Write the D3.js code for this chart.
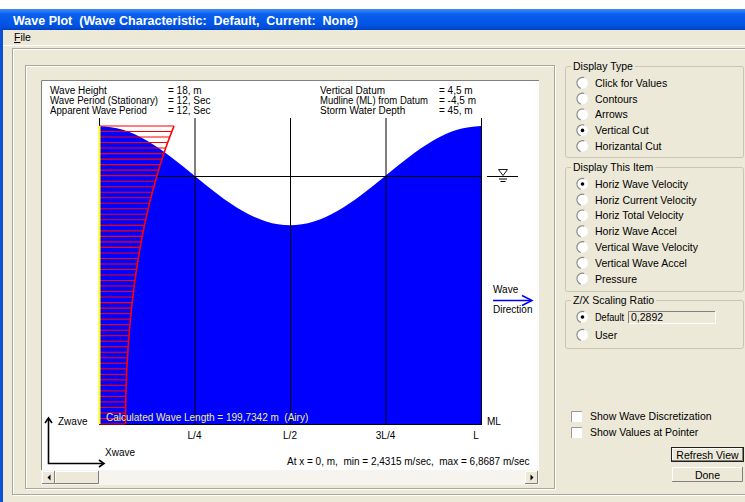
<!DOCTYPE html>
<html>
<head>
<meta charset="utf-8">
<script src="https://cdn.jsdelivr.net/npm/d3@7"></script>
<style>
  body { margin: 0; background: #fff; }
  text { font-family: "Liberation Sans", Arial, sans-serif; }
</style>
</head>
<body>
<div id="chart"></div>
<script>
(function(){
    'use strict';

    // wave data
    var waveLength = 199.7342;           // m
    var crestZ = 9, mudZ = -45;          // m from still water level
    var surfaceFrac = [0, 0.0625, 0.125, 0.1875, 0.25, 0.3125, 0.375, 0.4375, 0.5,
                       0.5625, 0.625, 0.6875, 0.75, 0.8125, 0.875, 0.9375, 1];
    var surfaceElev = [9, 8.31, 6.36, 3.44, 0, -3.44, -6.36, -8.31, -9,
                       -8.31, -6.36, -3.44, 0, 3.44, 6.36, 8.31, 9];
    // horizontal wave velocity at x = 0, one value per metre from crest (+9) to mudline (-45)
    var profileU = [6.87, 6.67, 6.48, 6.29, 6.11, 5.94, 5.77, 5.61, 5.45, 5.30,
                    5.16, 5.02, 4.88, 4.75, 4.62, 4.50, 4.39, 4.27, 4.16, 4.06,
                    3.96, 3.86, 3.77, 3.68, 3.60, 3.52, 3.44, 3.36, 3.29, 3.22,
                    3.16, 3.10, 3.04, 2.98, 2.93, 2.88, 2.83, 2.79, 2.75, 2.71,
                    2.67, 2.64, 2.61, 2.58, 2.55, 2.53, 2.51, 2.49, 2.47, 2.46,
                    2.45, 2.44, 2.44, 2.43, 2.43];
    var profileZ = d3.range(crestZ, mudZ - 1, -1);
    var uMax = 6.8687, uSwl = 5.30;

    var tickFrac = [0.25, 0.5, 0.75, 1];
    var tickLabels = ["L/4", "L/2", "3L/4", "L"];

    var infoLeft = [["Wave Height", "= 18, m"], ["Wave Period (Stationary)", "= 12, Sec"], ["Apparent Wave Period", "= 12, Sec"]];
    var infoRight = [["Vertical Datum", "= 4,5 m"], ["Mudline (ML) from Datum", "= -4,5 m"], ["Storm Water Depth", "= 45, m"]];

    var displayType = ["Click for Values", "Contours", "Arrows", "Vertical Cut", "Horizantal Cut"];
    var displayItem = ["Horiz Wave Velocity", "Horiz Current Velocity", "Horiz Total Velocity", "Horiz Wave Accel",
                       "Vertical Wave Velocity", "Vertical Wave Accel", "Pressure"];

    var W = 745, H = 502, bg = "#ece9d8";
    var svg = d3.select("#chart").append("svg").attr("width", W).attr("height", H);
    var defs = svg.append("defs");

    // squeeze a text to the width it has in the screenshot
    function fit(t, w){
        if (t.node().getComputedTextLength() > w) t.attr("textLength", w).attr("lengthAdjust", "spacingAndGlyphs");
        return t;
    }

    // ---------- window chrome ----------
    var g1 = defs.append("linearGradient").attr("id", "tb").attr("x1", 0).attr("y1", 0).attr("x2", 0).attr("y2", 1);
    g1.append("stop").attr("offset", "0").attr("stop-color", "#3f8cf3");
    g1.append("stop").attr("offset", "0.25").attr("stop-color", "#0a5ff0");
    g1.append("stop").attr("offset", "0.8").attr("stop-color", "#0053e1");
    g1.append("stop").attr("offset", "1").attr("stop-color", "#0041c4");

    svg.append("rect").attr("x", 0).attr("y", 9).attr("width", W).attr("height", H - 9).attr("fill", bg);
    svg.append("rect").attr("x", 0).attr("y", 9).attr("width", W).attr("height", 21).attr("fill", "url(#tb)");
    svg.append("rect").attr("x", 0).attr("y", 30).attr("width", 3).attr("height", H - 30).attr("fill", "#0b52d8");
    fit(svg.append("text").attr("x", 13).attr("y", 24.5).attr("fill", "#fff")
        .style("font-size", "12.5px").style("font-weight", "bold")
        .attr("xml:space", "preserve")
        .text("Wave Plot  (Wave Characteristic:  Default,  Current:  None)"), 350);
    var fileT = svg.append("text").attr("x", 14).attr("y", 41).style("font-size", "10.5px").attr("fill", "#000");
    fileT.append("tspan").attr("text-decoration", "underline").text("F");
    fileT.append("tspan").text("ile");
    svg.append("line").attr("x1", 3).attr("x2", W).attr("y1", 45.5).attr("y2", 45.5).attr("stroke", "#fff");

    function etched(x, y, w, h){
        svg.append("rect").attr("x", x + 1).attr("y", y + 1).attr("width", w).attr("height", h)
            .attr("fill", "none").attr("stroke", "#fff");
        svg.append("rect").attr("x", x).attr("y", y).attr("width", w).attr("height", h)
            .attr("fill", "none").attr("stroke", "#aca899");
    }
    etched(12.5, 48.5, 745, 446);
    etched(25.5, 65.5, 529, 423);

    // ---------- plot panel ----------
    svg.append("rect").attr("x", 41).attr("y", 80).attr("width", 498).attr("height", 390).attr("fill", "#fff");
    svg.append("path").attr("d", "M41.5,470 V80.5 H539").attr("fill", "none").attr("stroke", "#808080");

    var x = d3.scaleLinear().domain([0, waveLength]).range([99, 481]);
    var z = d3.scaleLinear().domain([crestZ, mudZ]).range([126, 424]);
    var u = d3.scaleLinear().domain([0, uMax]).range([99, 174]);

    var surface = surfaceFrac.map(function(f, i){ return {x: f * waveLength, eta: surfaceElev[i]}; });
    var area = d3.area().curve(d3.curveNatural)
        .x(function(d){ return x(d.x); })
        .y0(z(mudZ))
        .y1(function(d){ return z(d.eta); });

    var prof = profileZ.map(function(zz, i){ return [u(profileU[i]), z(zz)]; });
    var poly = [[u(0), z(crestZ)]].concat(prof).concat([[u(0), z(mudZ)]]);
    var line = d3.line();

    // profile background above the water stays white, water drawn over it
    svg.append("path").attr("d", line(poly) + "Z").attr("fill", "#fff");
    svg.append("path").attr("d", area(surface)).attr("fill", "#0000ff");

    // grid lines (still water line stops at the profile)
    svg.selectAll("line.v").data(tickFrac).enter().append("line")
        .attr("x1", function(f){ return x(f * waveLength) + 0.5; })
        .attr("x2", function(f){ return x(f * waveLength) + 0.5; })
        .attr("y1", 118).attr("y2", z(mudZ))
        .attr("stroke", "#000").attr("stroke-width", 1);
    svg.append("line").attr("x1", x(0) + 0.5).attr("x2", x(0) + 0.5).attr("y1", 118).attr("y2", z(crestZ))
        .attr("stroke", "#000");
    svg.append("line").attr("x1", u(uSwl)).attr("x2", x(waveLength) + 1)
        .attr("y1", Math.round(z(0)) + 0.5).attr("y2", Math.round(z(0)) + 0.5).attr("stroke", "#000");
    svg.append("line").attr("x1", x(0)).attr("x2", x(waveLength) + 1)
        .attr("y1", z(mudZ) + 0.5).attr("y2", z(mudZ) + 0.5).attr("stroke", "#000");

    // velocity profile
    svg.selectAll("line.bar").data(prof).enter().append("line")
        .attr("x1", u(0)).attr("x2", function(d){ return d[0]; })
        .attr("y1", function(d){ return d[1]; }).attr("y2", function(d){ return d[1]; })
        .attr("stroke", "#ff0000").attr("stroke-width", 1.1);
    svg.append("path").attr("d", line(prof)).attr("fill", "none").attr("stroke", "#ff0000").attr("stroke-width", 1.6);
    svg.append("line").attr("x1", u(0) + 0.5).attr("x2", u(0) + 0.5).attr("y1", z(crestZ)).attr("y2", z(mudZ))
        .attr("stroke", "#ffff00").attr("stroke-width", 2);

    // labels inside plot
    fit(svg.append("text").attr("x", 106).attr("y", 420.5).attr("fill", "#f0f080").style("font-size", "10px")
        .attr("xml:space", "preserve").text("Calculated Wave Length = 199,7342 m  (Airy)"), 204);
    svg.selectAll("text.tick").data(tickFrac).enter().append("text")
        .attr("x", function(f, i){ return x(f * waveLength) + (i === 3 ? -5 : 0); })
        .attr("y", 439).attr("text-anchor", "middle").style("font-size", "10px")
        .text(function(f, i){ return tickLabels[i]; });
    svg.append("text").attr("x", 487).attr("y", 425).style("font-size", "10px").text("ML");

    function info(rows, x1, x2, w){
        rows.forEach(function(r, i){
            var y = 93.5 + i * 10.3;
            fit(svg.append("text").attr("x", x1).attr("y", y).style("font-size", "10px").text(r[0]), w[i]);
            svg.append("text").attr("x", x2).attr("y", y).style("font-size", "10px").text(r[1]);
        });
    }
    info(infoLeft, 50, 168, [60, 108, 97]);
    info(infoRight, 320, 439, [71, 108, 87]);

    // still water symbol
    var swl = Math.round(z(0)) + 0.5;
    svg.append("line").attr("x1", 487).attr("x2", 518).attr("y1", swl).attr("y2", swl).attr("stroke", "#000");
    svg.append("path").attr("d", "M498.5," + (swl - 7) + " H507.5 L503," + (swl - 1) + " Z").attr("fill", "none").attr("stroke", "#000").attr("stroke-width", 0.9);
    svg.append("line").attr("x1", 499).attr("x2", 507).attr("y1", swl + 2.5).attr("y2", swl + 2.5).attr("stroke", "#000");
    svg.append("line").attr("x1", 500.5).attr("x2", 505.5).attr("y1", swl + 5).attr("y2", swl + 5).attr("stroke", "#000");

    // wave direction
    svg.append("text").attr("x", 493).attr("y", 293).style("font-size", "10px").text("Wave");
    fit(svg.append("text").attr("x", 493).attr("y", 313).style("font-size", "10px").text("Direction"), 40);
    svg.append("line").attr("x1", 493).attr("x2", 531).attr("y1", 300.5).attr("y2", 300.5).attr("stroke", "#0000ff").attr("stroke-width", 1.3);
    svg.append("path").attr("d", "M522,295.5 L532,300.5 L522,305.5").attr("fill", "none").attr("stroke", "#0000ff").attr("stroke-width", 1.5);

    // axes arrows
    svg.append("path").attr("d", "M48.5,419 V463.5 H103").attr("fill", "none").attr("stroke", "#000").attr("stroke-width", 1.6);
    svg.append("path").attr("d", "M45,423 L48.5,418 L52,423").attr("fill", "none").attr("stroke", "#000").attr("stroke-width", 1.6);
    svg.append("path").attr("d", "M99,460 L104,463.5 L99,467").attr("fill", "none").attr("stroke", "#000").attr("stroke-width", 1.6);
    svg.append("text").attr("x", 58).attr("y", 424.5).style("font-size", "10px").text("Zwave");
    svg.append("text").attr("x", 105).attr("y", 455.5).style("font-size", "10px").text("Xwave");
    fit(svg.append("text").attr("x", 287).attr("y", 464.5).style("font-size", "10px")
        .attr("xml:space", "preserve").text("At x = 0, m,  min = 2,4315 m/sec,  max = 6,8687 m/sec"), 249);

    // scrollbar
    svg.append("rect").attr("x", 41).attr("y", 470).attr("width", 498).attr("height", 15).attr("fill", "#f5f4ee");
    function raised(x0, y0, w, h){
        svg.append("rect").attr("x", x0).attr("y", y0).attr("width", w).attr("height", h).attr("fill", bg);
        svg.append("path").attr("d", "M" + (x0 + 0.5) + "," + (y0 + h) + " V" + (y0 + 0.5) + " H" + (x0 + w))
            .attr("fill", "none").attr("stroke", "#fff");
        svg.append("path").attr("d", "M" + x0 + "," + (y0 + h - 0.5) + " H" + (x0 + w - 0.5) + " V" + y0)
            .attr("fill", "none").attr("stroke", "#808080");
    }
    raised(42, 471, 13, 13);
    raised(55, 471, 44, 13);
    raised(525, 471, 13, 13);
    svg.append("path").attr("d", "M50.5,474.5 L47.5,477.5 L50.5,480.5 Z").attr("fill", "#000");
    svg.append("path").attr("d", "M530.5,474.5 L533.5,477.5 L530.5,480.5 Z").attr("fill", "#000");

    // ---------- right side controls ----------
    function group(x0, y0, w, h, label){
        svg.append("rect").attr("x", x0 + 0.5).attr("y", y0 + 0.5).attr("width", w).attr("height", h)
            .attr("rx", 2).attr("fill", "none").attr("stroke", "#c8c5b5");
        var t = svg.append("text").attr("x", x0 + 8).attr("y", y0 + 4).style("font-size", "10.5px").text(label);
        var bb = t.node().getBBox();
        svg.insert("rect", function(){ return t.node(); })
            .attr("x", bb.x - 2).attr("y", bb.y).attr("width", bb.width + 4).attr("height", bb.height).attr("fill", bg);
    }
    function radio(cy, label, on, size){
        var cx = 582.5;
        svg.append("circle").attr("cx", cx).attr("cy", cy).attr("r", 5.5).attr("fill", "#fff");
        var arc = d3.arc().innerRadius(5).outerRadius(6.2).startAngle(-Math.PI * 0.9).endAngle(Math.PI * 0.1);
        svg.append("path").attr("d", arc()).attr("transform", "translate(" + cx + "," + cy + ")").attr("fill", "#8a8a86");
        if (on) svg.append("circle").attr("cx", cx).attr("cy", cy).attr("r", 1.8).attr("fill", "#000");
        return svg.append("text").attr("x", 595).attr("y", cy + 3.8).style("font-size", size || "10.5px").text(label);
    }

    group(565, 66, 178, 91, "Display Type");
    displayType.forEach(function(d, i){ radio(83 + i * 15.8, d, i === 3); });

    group(565, 167, 178, 124, "Display This Item");
    displayItem.forEach(function(d, i){ radio(184 + i * 15.8, d, i === 0); });

    group(565, 300, 178, 48, "Z/X Scaling Ratio");
    fit(radio(317, "Default", true, "10px"), 29);
    radio(335, "User", false);
    svg.append("rect").attr("x", 628).attr("y", 311.5).attr("width", 87).attr("height", 12).attr("fill", bg);
    svg.append("path").attr("d", "M628.5,323.5 V311.5 H715").attr("fill", "none").attr("stroke", "#808080");
    svg.append("path").attr("d", "M628.5,323.5 H715.5 V311.5").attr("fill", "none").attr("stroke", "#fff");
    svg.append("text").attr("x", 631).attr("y", 321).style("font-size", "10.5px").text("0,2892");

    function checkbox(cy, label){
        svg.append("rect").attr("x", 571).attr("y", cy - 5).attr("width", 11).attr("height", 11).attr("fill", "#fff");
        svg.append("path").attr("d", "M571.5," + (cy + 6) + " V" + (cy - 4.5) + " H582").attr("fill", "none").attr("stroke", "#9a9a96");
        svg.append("text").attr("x", 590).attr("y", cy + 4).style("font-size", "10.5px").text(label);
    }
    checkbox(416, "Show Wave Discretization");
    checkbox(432, "Show Values at Pointer");

    function button(y0, h, label, dflt){
        raised(672, y0, 71, h);
        if (dflt) svg.append("rect").attr("x", 671.5).attr("y", y0 - 0.5).attr("width", 72).attr("height", h + 1)
            .attr("fill", "none").attr("stroke", "#202020");
        svg.append("text").attr("x", 707.5).attr("y", y0 + h / 2 + 4).attr("text-anchor", "middle")
            .style("font-size", "10.5px").text(label);
    }
    button(448, 13, "Refresh View", true);
    button(467, 15, "Done", false);
}());
</script>
</body>
</html>
